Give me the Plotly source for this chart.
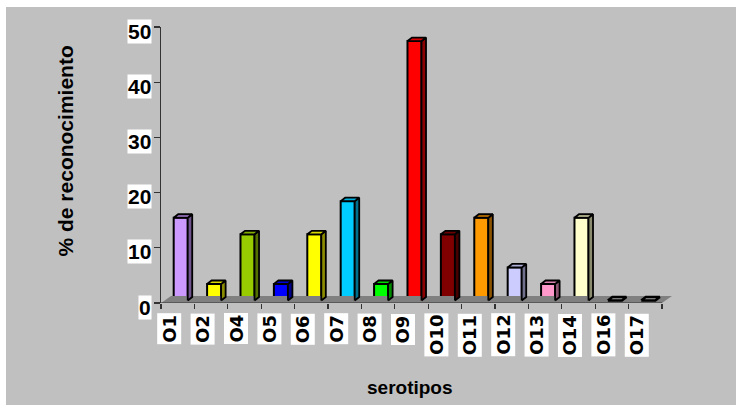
import plotly.graph_objects as go

# ---- data ----
categories = ["O1", "O2", "O4", "O5", "O6", "O7", "O8", "O9", "O10",
              "O11", "O12", "O13", "O14", "O16", "O17"]
values = [15, 3, 12, 3, 12, 18, 3, 47, 12, 15, 6, 3, 15, 0, 0]
colors = ["#CC99FF", "#FFFF00", "#99CC00", "#0000FF", "#FFFF00", "#00CCFF",
          "#00FF00", "#FF0000", "#800000", "#FF9900", "#CCCCFF", "#FF99CC",
          "#FFFFCC", "#808080", "#808080"]
y_ticks = [0, 10, 20, 30, 40, 50]
y_title = "% de reconocimiento"
x_title = "serotipos"

# ---- geometry (style) ----
BASE = 0.45       # bar front bottom above floor front (y units)
WIDTH = 0.42      # bar front width (category units)
SHIFT = 0.09      # bar front horizontal shift
DX, DY = 0.135, 0.63   # bar depth offset
FDX, FDY = 0.30, 1.27  # floor depth offset
BG = "#C0C0C0"
AX = "#333333"

OFFX, OFFY = 6, 7            # page offset of the figure (white border)
W, H = 736 - OFFX, 405 - OFFY
ML, MR, MT, MB = 161 - OFFX, 64, 27 - OFFY, 102
PW, PH = W - ML - MR, H - MT - MB


def px_x(page_x):
    return (page_x - OFFX - ML) / PW


def px_y(page_y):
    return (H - MB - (page_y - OFFY)) / PH


def shade(hexcol, f):
    h = hexcol.lstrip("#")
    r, g, b = (int(h[i:i + 2], 16) for i in (0, 2, 4))
    return "#%02X%02X%02X" % (int(r * f), int(g * f), int(b * f))


idx = list(range(len(categories)))
n = len(categories)
fig = go.Figure()

# floor (drawn first, behind bars)
fig.add_trace(go.Scatter(
    x=[-0.5, n - 0.5, n - 0.5 + FDX, -0.5 + FDX, -0.5],
    y=[0, 0, FDY, FDY, 0], mode="lines", fill="toself",
    fillcolor="#808080", line=dict(width=0), hoverinfo="skip"))

# front faces
fig.add_trace(go.Bar(
    x=idx, y=values, base=BASE, width=WIDTH, offset=-WIDTH / 2 + SHIFT,
    marker=dict(color=colors, line=dict(color="black", width=2)),
    hoverinfo="skip"))

# side and top faces
for i, (v, c) in enumerate(zip(values, colors)):
    x0 = i - WIDTH / 2 + SHIFT
    x1 = i + WIDTH / 2 + SHIFT
    top = v + BASE
    if v > 0:
        fig.add_trace(go.Scatter(
            x=[x1, x1 + DX, x1 + DX, x1, x1],
            y=[BASE, BASE + DY, top + DY, top, BASE],
            mode="lines", fill="toself", fillcolor=shade(c, 0.55),
            line=dict(color="black", width=1.8), hoverinfo="skip"))
    fig.add_trace(go.Scatter(
        x=[x0, x1, x1 + DX, x0 + DX, x0],
        y=[top, top, top + DY, top + DY, top],
        mode="lines", fill="toself",
        fillcolor=shade(c, 0.85) if v > 0 else "#A0A0A0",
        line=dict(color="black", width=1.8 if v > 0 else 2.5),
        hoverinfo="skip"))

annotations = []
# y tick labels
for t in y_ticks:
    annotations.append(dict(
        x=0, xref="paper", y=t, yref="y", xanchor="right", yanchor="middle",
        xshift=-9, yshift=-4, text=str(t), showarrow=False,
        bgcolor="white", borderpad=0,
        font=dict(family="Liberation Sans, Arial", size=21, color="black",
                  weight="bold")))
# x tick labels
for i, cat in enumerate(categories):
    annotations.append(dict(
        x=i, xref="x", y=0, yref="paper", xanchor="center", yanchor="top",
        xshift=-9, yshift=-10, text=cat, textangle=-90, showarrow=False,
        bgcolor="white", borderpad=1,
        font=dict(family="DejaVu Sans", size=18, color="black",
                  weight="bold")))
# axis titles
annotations.append(dict(
    x=px_x(64.5), xref="paper", y=px_y(151), yref="paper",
    xanchor="center", yanchor="middle", text=y_title, textangle=-90,
    showarrow=False,
    font=dict(family="Liberation Sans, Arial", size=21, color="black",
              weight="bold")))
annotations.append(dict(
    x=px_x(409.5), xref="paper", y=px_y(387), yref="paper",
    xanchor="center", yanchor="middle", text=x_title, showarrow=False,
    font=dict(family="Liberation Sans, Arial", size=19, color="black",
              weight="bold")))

shapes = [
    # x axis line along floor front
    dict(type="line", xref="x", yref="y", x0=-0.5, x1=n - 0.5, y0=0, y1=0,
         line=dict(color=AX, width=1.2), layer="above"),
]

fig.update_layout(
    width=W, height=H,
    margin=dict(l=ML, r=MR, t=MT, b=MB),
    paper_bgcolor=BG, plot_bgcolor=BG,
    showlegend=False, hovermode=False,
    annotations=annotations, shapes=shapes,
    xaxis=dict(range=[-0.5, n - 0.5 + FDX], showgrid=False, zeroline=False,
               showline=False, tickmode="array",
               tickvals=[k - 0.5 for k in range(n + 1)],
               ticks="outside", ticklen=5, tickcolor=AX, tickwidth=1.2,
               showticklabels=False, fixedrange=True),
    yaxis=dict(range=[0, 50], showgrid=False, zeroline=False,
               showline=True, linecolor=AX, linewidth=1.2,
               tickmode="array", tickvals=y_ticks, ticks="outside",
               ticklen=6, tickcolor=AX, tickwidth=1.2,
               showticklabels=False, fixedrange=True),
)

post = ("document.body.style.margin='%dpx 0 0 %dpx';"
        "document.body.style.overflow='hidden';"
        "document.body.style.background='white';" % (OFFY, OFFX))
fig.write_html("out.html", post_script=post,
               config={"displayModeBar": False, "staticPlot": True})
